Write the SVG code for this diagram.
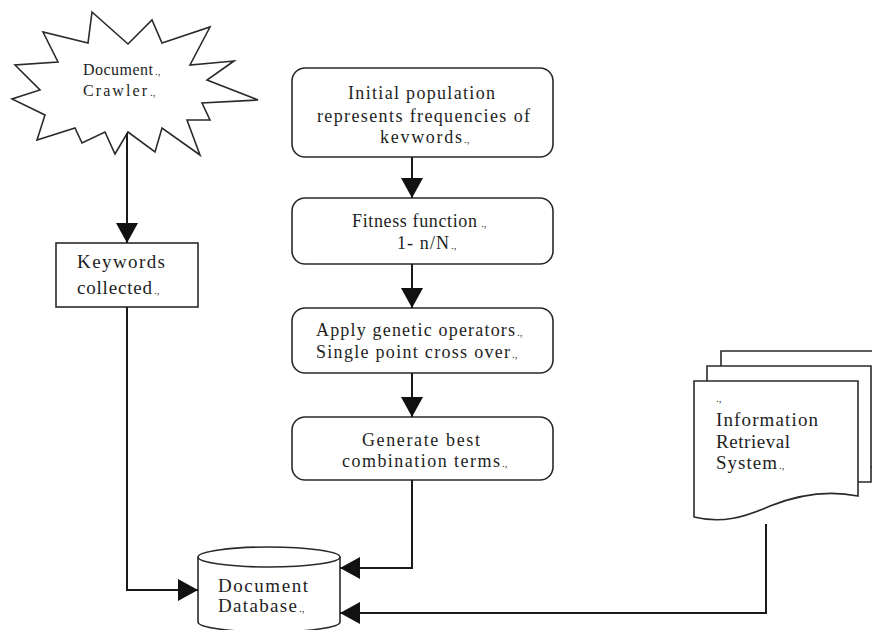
<svg xmlns="http://www.w3.org/2000/svg" width="872" height="630" viewBox="0 0 872 630">
<defs>
<marker id="ah" viewBox="0 0 20 22" refX="20" refY="11" markerWidth="20" markerHeight="22" markerUnits="userSpaceOnUse" orient="auto">
<path d="M0,0 L20,11 L0,22 Z" fill="#111"/>
</marker>
<style>
.sh{fill:#fff;stroke:#2a2a2a;stroke-width:1.6}
.t{font-family:"Liberation Serif","Times New Roman",serif;font-size:18px;fill:#1e1e1e}
.b{font-size:19px}
.s{font-size:16px}
.m{font-family:"Liberation Serif",serif;font-size:11px;fill:#333}
.c{fill:none;stroke:#1a1a1a;stroke-width:2}
</style>
</defs>
<rect width="872" height="630" fill="#fff"/>

<g id="crawler">
<path class="sh" d="M92,12 L128,44 L152,20 L162,43 L210,27 L190,65 L234,61 L207,80 L258,100 L202,103 L210,120 L187,120 L200,155 L162,128 L155,152 L128,132 L115,154 L105,132 L82,143 L75,128 L37,140 L45,115 L12,99 L40,90 L15,65 L58,62 L43,32 L88,43 Z"/>
<text class="t s" x="83" y="75" textLength="70" lengthAdjust="spacing">Document</text><text class="m" x="155" y="75">.,</text>
<text class="t s" x="83" y="96" textLength="64" lengthAdjust="spacing">Crawler</text><text class="m" x="150" y="96">.,</text>
</g>

<g id="keywords">
<rect class="sh" x="56" y="243" width="142" height="64"/>
<text class="t b" x="77" y="268" textLength="88" lengthAdjust="spacing">Keywords</text>
<text class="t b" x="77" y="294" textLength="75" lengthAdjust="spacing">collected</text><text class="m" x="154" y="294">.,</text>
</g>

<g id="initial">
<rect class="sh" x="292" y="68" width="261" height="89" rx="13"/>
<text class="t" x="348" y="99" textLength="147" lengthAdjust="spacing">Initial population</text>
<text class="t" x="317" y="122" textLength="213" lengthAdjust="spacing">represents frequencies of</text>
<text class="t" x="380" y="143" textLength="82" lengthAdjust="spacing">kevwords</text><text class="m" x="464" y="143">.,</text>
</g>

<g id="fitness">
<rect class="sh" x="292" y="198" width="261" height="66" rx="13"/>
<text class="t" x="352" y="227" textLength="125" lengthAdjust="spacing">Fitness function</text><text class="m" x="481" y="227">.,</text>
<text class="t" x="397" y="249" textLength="52" lengthAdjust="spacing">1- n/N</text><text class="m" x="451" y="249">.,</text>
</g>

<g id="apply">
<rect class="sh" x="292" y="308" width="261" height="65" rx="13"/>
<text class="t" x="316" y="336" textLength="199" lengthAdjust="spacing">Apply genetic operators</text><text class="m" x="517" y="336">.,</text>
<text class="t" x="316" y="358" textLength="194" lengthAdjust="spacing">Single point cross over</text><text class="m" x="512" y="358">.,</text>
</g>

<g id="generate">
<rect class="sh" x="292" y="417" width="261" height="63" rx="13"/>
<text class="t" x="362" y="446" textLength="118" lengthAdjust="spacing">Generate best</text>
<text class="t" x="342" y="467" textLength="158" lengthAdjust="spacing">combination terms</text><text class="m" x="502" y="467">.,</text>
</g>

<g id="database">
<path class="sh" d="M198,557 V622 A71,10 0 0 0 340,622 V557"/>
<ellipse class="sh" cx="269" cy="557" rx="71" ry="10"/>
<text class="t b" x="218" y="592" textLength="90" lengthAdjust="spacing">Document</text>
<text class="t b" x="218" y="612" textLength="79" lengthAdjust="spacing">Database</text><text class="m" x="299" y="612">.,</text>
</g>

<g id="irs">
<path class="sh" d="M721,467 V351 H886 V467 Z"/>
<path class="sh" d="M707,482 V366 H871 V482 Z"/>
<path class="sh" d="M694,381 H858 V496 C828,490 800,494 770,506 C745,517 722,524 694,517 Z"/>
<text class="m" x="716" y="402">.,</text>
<text class="t b" x="716" y="426" textLength="102" lengthAdjust="spacing">Information</text>
<text class="t b" x="716" y="448" textLength="74" lengthAdjust="spacing">Retrieval</text>
<text class="t b" x="716" y="469" textLength="61" lengthAdjust="spacing">System</text><text class="m" x="779" y="469">.,</text>
</g>

<g id="connectors">
<path class="c" d="M127,133 V243" marker-end="url(#ah)"/>
<path class="c" d="M412,157 V198" marker-end="url(#ah)"/>
<path class="c" d="M412,264 V308" marker-end="url(#ah)"/>
<path class="c" d="M412,373 V417" marker-end="url(#ah)"/>
<path class="c" d="M127,307 V590 H198" marker-end="url(#ah)"/>
<path class="c" d="M412,480 V568 H340" marker-end="url(#ah)"/>
<path class="c" d="M766,524 V613 H340" marker-end="url(#ah)"/>
</g>
</svg>
